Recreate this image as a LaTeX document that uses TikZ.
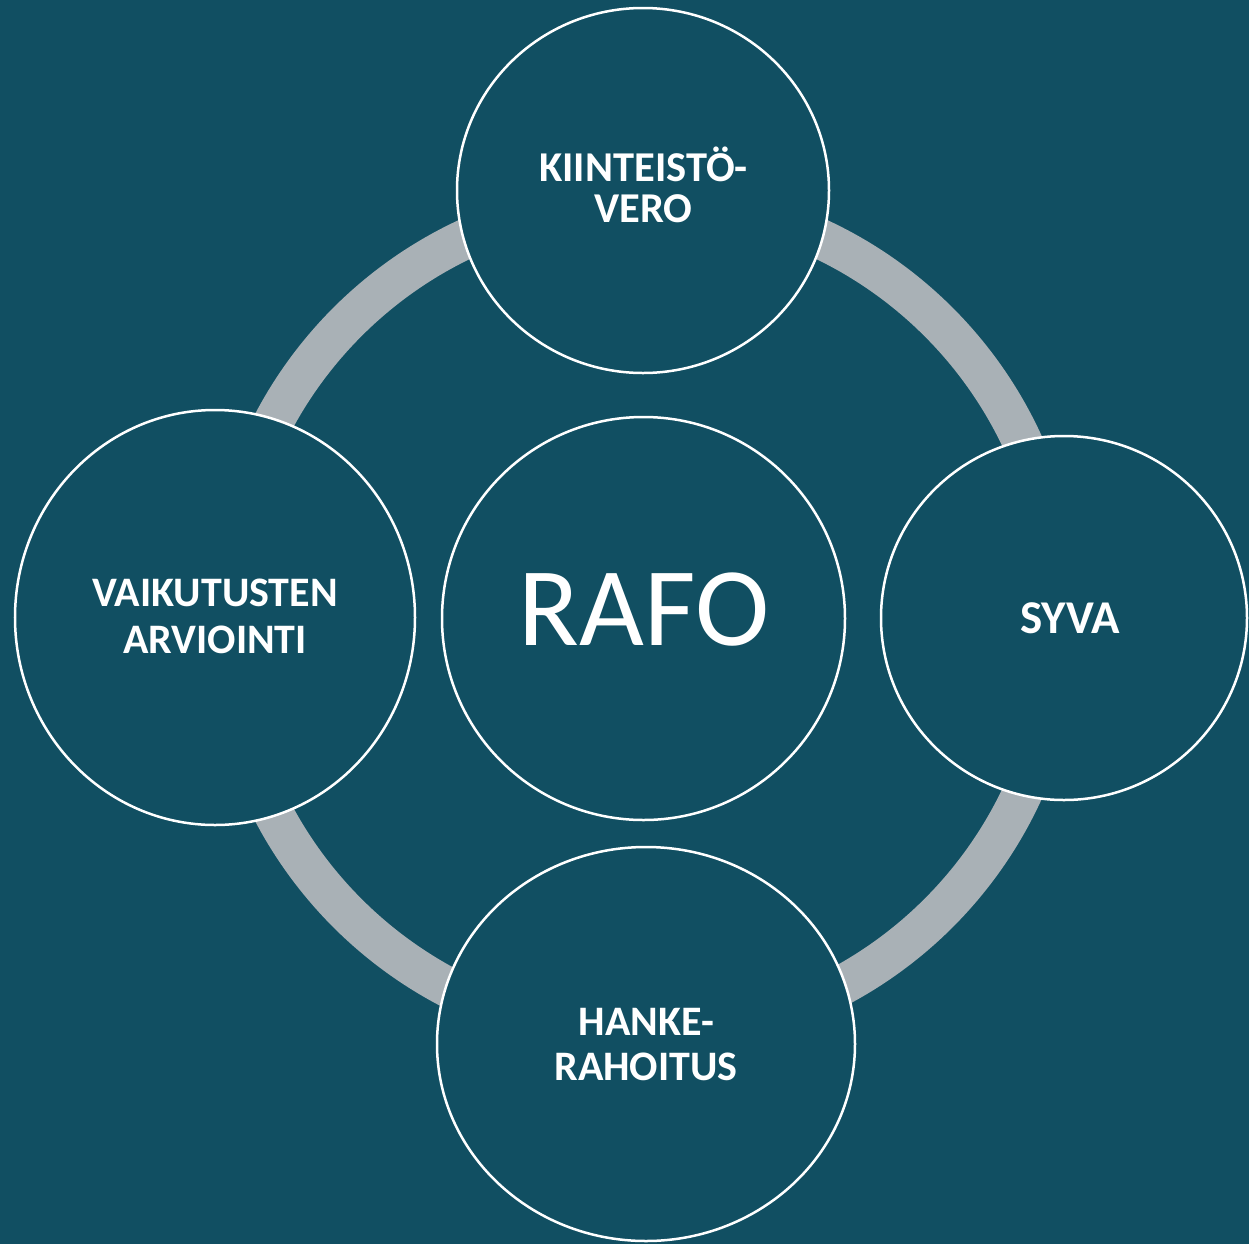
\documentclass[tikz,border=0pt]{standalone}
\usepackage{fontspec}
\setmainfont{Carlito}
\usetikzlibrary{shapes.geometric}
\definecolor{bg}{HTML}{114F62}
\definecolor{ringgrey}{HTML}{A9B1B6}
\begin{document}
\begin{tikzpicture}[x=1bp,y=-1bp,
  bubble/.style={ellipse,draw=white,line width=2.5bp,fill=bg,inner sep=0pt,outer sep=0pt},
  lbl/.style={text=white,inner sep=0pt,anchor=base}]
\useasboundingbox (0,0) rectangle (1249,1244);
\clip (0,0) rectangle (1249,1244);
\fill[bg] (0,0) rectangle (1249,1244);
% grey ring
\draw[ringgrey,line width=40bp] (643,617.5) circle[radius=418];
% bubbles
\node[bubble,minimum width=403bp,minimum height=403bp] (rafo) at (643.5,618.5) {};
\node[bubble,minimum width=372bp,minimum height=365bp] (kv) at (643,190.5) {};
\node[bubble,minimum width=366bp,minimum height=364bp] (syva) at (1064,618) {};
\node[bubble,minimum width=400bp,minimum height=415bp] (va) at (215,617.5) {};
\node[bubble,minimum width=418bp,minimum height=394bp] (hr) at (646,1044) {};
% labels
\node[lbl,font=\fontsize{112bp}{120bp}\selectfont] (trafo) at (644,645) {RAFO};
\node[lbl,font=\bfseries\fontsize{42.5bp}{41bp}\selectfont] (tkv1) at (643.5,181) {KIINTEISTÖ-};
\node[lbl,font=\bfseries\fontsize{42.5bp}{41bp}\selectfont] (tkv2) at (643.5,222) {VERO};
\node[lbl,font=\bfseries\fontsize{47bp}{50bp}\selectfont] (tsyva) at (1070,633) {SYVA};
\node[lbl,font=\bfseries\fontsize{42bp}{46bp}\selectfont] (tva1) at (215,606) {VAIKUTUSTEN};
\node[lbl,font=\bfseries\fontsize{42bp}{46bp}\selectfont] (tva2) at (215,653) {ARVIOINTI};
\node[lbl,font=\bfseries\fontsize{42bp}{45bp}\selectfont] (thr1) at (646.5,1035) {HANKE-};
\node[lbl,font=\bfseries\fontsize{42bp}{45bp}\selectfont] (thr2) at (646,1080) {RAHOITUS};
\end{tikzpicture}
\end{document}
